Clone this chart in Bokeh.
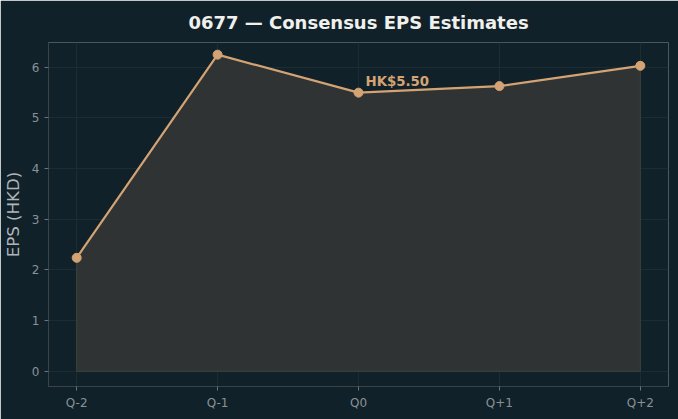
from bokeh.plotting import figure
from bokeh.models import FixedTicker, Range1d
from bokeh.embed import file_html
from bokeh.resources import INLINE
from bokeh.core.properties import value

categories = ["Q-2", "Q-1", "Q0", "Q+1", "Q+2"]
eps = [2.24, 6.25, 5.50, 5.63, 6.03]
highlight_index = 2
highlight_label = "HK$5.50"

BG = "#11212a"
LINE = "#d4a373"
FONT = "DejaVu Sans"

xs = list(range(len(categories)))

p = figure(width=678, height=419, output_backend="svg", toolbar_location=None,
           x_range=Range1d(-0.2, len(categories) - 1 + 0.2),
           y_range=Range1d(-0.3, 6.49),
           background_fill_color=BG, border_fill_color=BG,
           min_border_left=48, min_border_right=10, min_border_top=40, min_border_bottom=33)
p.outline_line_color = None

p.title.text = "0677 — Consensus EPS Estimates"
p.title.text_color = "#f0f0ec"
p.title.text_font = FONT
p.title.text_font_size = "13.5pt"
p.title.text_font_style = "bold"
p.title.align = "center"
p.title.standoff = 19

# area
px = [xs[0]] + xs + [xs[-1]]
py = [0] + eps + [0]
p.patch(px, py, fill_color="#2f3333", fill_alpha=1, line_color="#3e423c", line_width=1)

p.line(xs, eps, line_color=LINE, line_width=2.2)
p.scatter(xs, eps, size=9, fill_color=LINE, line_color=LINE)

p.text([xs[highlight_index]], [eps[highlight_index]], text=[highlight_label],
       x_offset=7, y_offset=-4, text_color="#d4a373", text_font=value(FONT),
       text_font_size="10pt", text_font_style="bold", text_baseline="bottom")

p.xaxis.ticker = FixedTicker(ticks=xs)
p.xaxis.major_label_overrides = {i: c for i, c in enumerate(categories)}
p.yaxis.ticker = FixedTicker(ticks=[0, 1, 2, 3, 4, 5, 6])
p.yaxis.axis_label = "EPS (HKD)"

for ax in (p.xaxis[0], p.yaxis[0]):
    ax.axis_line_color = "#3a4448"
    ax.major_tick_line_color = "#6a7478"
    ax.major_tick_out = 4
    ax.major_tick_in = 0
    ax.minor_tick_line_color = None
    ax.major_label_text_color = "#8a9296"
    ax.major_label_text_font = FONT
    ax.major_label_text_font_size = "9pt"
    ax.axis_label_text_color = "#b0b5b8"
    ax.axis_label_text_font = FONT
    ax.axis_label_text_font_size = "12.5pt"
    ax.axis_label_text_font_style = "normal"
p.yaxis.axis_label_standoff = 6

p.grid.grid_line_color = "#1b2c33"
p.grid.grid_line_width = 1

open("out.html", "w").write(file_html(p, INLINE))
